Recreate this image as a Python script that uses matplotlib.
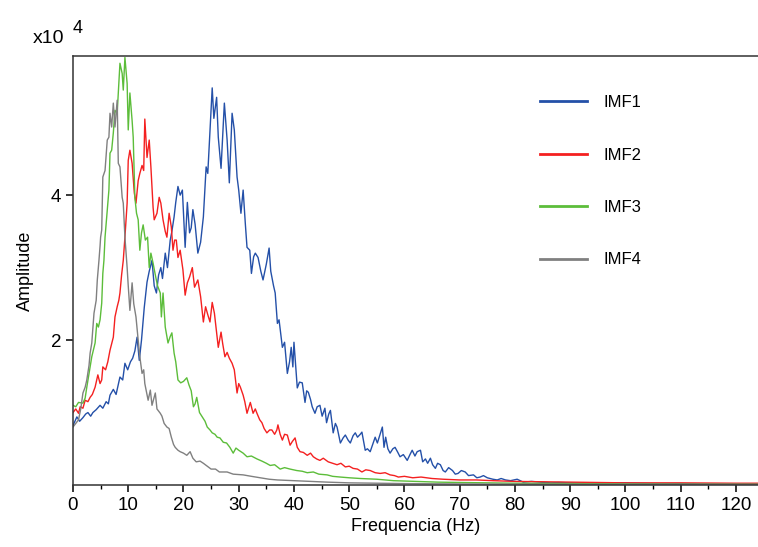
import matplotlib
matplotlib.use("Agg")
import matplotlib.pyplot as plt
from matplotlib.ticker import MultipleLocator

plt.rcParams['font.family'] = ['Liberation Sans', 'DejaVu Sans']

# spectra, amplitude in units of 1e4
f_imf1 = [0, 0.7, 1.2, 1.8, 2.3, 2.7, 3.2, 3.6, 4.2, 4.9, 5.4, 6.0, 6.4, 6.7, 7.3, 7.8, 8.5, 9.0, 9.4, 9.9,
          10.4, 10.8, 11.2, 11.6, 12.0, 12.4, 12.9, 13.4, 13.8, 14.3, 14.7, 15.1, 15.5, 15.9, 16.2, 16.7, 17.1,
          17.6, 17.9, 18.3, 18.6, 19.0, 19.4, 19.8, 20.3, 20.7, 21.1, 21.4, 21.7, 22.1, 22.6, 23.1, 23.6, 24.1,
          24.4, 24.8, 25.2, 25.5, 26.0, 26.3, 26.8, 27.4, 27.9, 28.3, 28.8, 29.2, 29.7, 30.0, 30.4, 30.8, 31.2,
          31.5, 32.0, 32.3, 32.7, 33.0, 33.5, 34.0, 34.4, 35.0, 35.5, 35.8, 36.3, 36.6, 37.0, 37.3, 37.9, 38.3,
          38.8, 39.2, 39.5, 39.8, 40.0, 40.6, 41.0, 41.5, 41.8, 42.0, 42.3, 42.6, 43.0, 43.3, 43.8, 44.2, 44.7,
          45.1, 45.6, 45.9, 46.3, 46.6, 47.1, 47.5, 47.8, 48.4, 48.9, 49.3, 49.8, 50.2, 50.7, 51.1, 51.5, 52.0,
          52.3, 52.9, 53.3, 53.8, 54.2, 54.7, 55.1, 55.6, 56.0, 56.3, 56.6, 57.0, 57.4, 57.9, 58.3, 58.8, 59.2,
          59.8, 60.5, 61.0, 61.4, 61.9, 62.3, 62.9, 63.3, 63.8, 64.2, 64.7, 65.1, 65.6, 66.0, 66.5, 67.0, 67.4,
          68.0, 68.7, 69.2, 69.7, 70.3, 71.0, 71.6, 72.5, 73.1, 73.7, 74.3, 75.0, 76.0, 76.8, 77.5, 78.3, 79.2,
          80.4, 81.5, 83.0, 84.6, 86.5, 88, 90, 95, 100, 105, 110, 115, 120, 124.5]
a_imf1 = [0.82, 0.94, 0.88, 0.93, 0.98, 1.0, 0.95, 1.0, 1.04, 1.1, 1.06, 1.15, 1.12, 1.24, 1.32, 1.25, 1.49, 1.45,
          1.68, 1.59, 1.7, 1.75, 1.85, 2.04, 1.72, 2.0, 2.45, 2.8, 2.95, 3.1, 2.75, 2.65, 2.9, 3.0, 2.85, 3.2, 3.0,
          3.38, 3.5, 3.7, 3.9, 4.12, 4.0, 4.07, 3.28, 3.9, 3.48, 3.55, 3.8, 3.6, 3.2, 3.35, 3.7, 4.39, 4.3, 4.9,
          5.48, 5.06, 5.35, 4.8, 4.37, 5.27, 4.76, 4.17, 5.13, 4.9, 4.25, 4.07, 3.75, 4.07, 3.6, 3.28, 3.24, 2.92,
          3.15, 3.2, 3.14, 2.95, 2.83, 3.05, 3.27, 2.95, 2.75, 2.65, 2.23, 2.28, 1.9, 1.97, 1.54, 1.7, 1.9, 1.63,
          1.97, 1.34, 1.42, 1.41, 1.25, 1.14, 1.3, 1.28, 1.18, 1.08, 0.99, 1.08, 1.1, 0.95, 1.06, 0.86, 0.98, 1.03,
          0.72, 0.85, 0.8, 0.58, 0.65, 0.69, 0.62, 0.58, 0.68, 0.72, 0.66, 0.7, 0.73, 0.48, 0.5, 0.46, 0.55, 0.66,
          0.58, 0.7, 0.8, 0.52, 0.66, 0.5, 0.44, 0.5, 0.52, 0.45, 0.39, 0.42, 0.34, 0.42, 0.48, 0.4, 0.46, 0.48,
          0.32, 0.36, 0.3, 0.37, 0.28, 0.23, 0.3, 0.28, 0.2, 0.18, 0.24, 0.2, 0.15, 0.16, 0.2, 0.18, 0.13, 0.14,
          0.1, 0.11, 0.13, 0.1, 0.08, 0.07, 0.09, 0.07, 0.06, 0.08, 0.04, 0.05, 0.04, 0.03, 0.035, 0.03, 0.025,
          0.03, 0.02, 0.02, 0.015, 0.015, 0.015]

f_imf2 = [0, 0.5, 1.0, 1.3, 1.8, 2.2, 2.7, 3.1, 3.5, 4.0, 4.5, 4.9, 5.2, 5.4, 5.9, 6.3, 6.7, 7.0, 7.3, 7.6, 8.0,
          8.3, 8.5, 8.8, 9.1, 9.4, 9.8, 10.0, 10.3, 10.7, 11.1, 11.4, 11.8, 12.1, 12.5, 12.8, 13.0, 13.4, 13.8,
          14.1, 14.5, 14.7, 15.2, 15.6, 15.9, 16.3, 16.7, 17.0, 17.4, 17.8, 18.1, 18.4, 18.7, 19.0, 19.4, 19.9,
          20.3, 20.7, 21.1, 21.6, 22.0, 22.6, 23.1, 23.6, 24.0, 24.4, 24.8, 25.2, 25.6, 26.0, 26.3, 26.8, 27.1,
          27.5, 27.9, 28.3, 28.8, 29.2, 29.7, 30.0, 30.3, 30.8, 31.1, 31.5, 32.1, 32.6, 33.0, 33.3, 33.8, 34.2,
          34.6, 35.1, 35.6, 36.0, 36.5, 36.9, 37.1, 37.5, 37.9, 38.3, 38.8, 39.3, 39.7, 40.2, 40.6, 41.1, 41.7,
          42.4, 43.0, 43.5, 44.1, 44.7, 45.3, 46.2, 47.0, 47.8, 48.5, 49.3, 50.0, 50.7, 51.5, 52.3, 53.0, 53.8,
          54.7, 55.6, 56.5, 57.4, 58.2, 58.9, 60, 61.5, 63, 65, 67, 70, 73, 76, 80, 85, 90, 95, 100, 110, 120, 124.5]
a_imf2 = [1.0, 1.05, 0.99, 1.08, 1.06, 1.17, 1.15, 1.21, 1.25, 1.35, 1.52, 1.4, 1.45, 1.63, 1.59, 1.7, 1.86, 1.95,
          2.04, 2.32, 2.46, 2.55, 2.65, 2.9, 3.1, 3.42, 3.89, 4.48, 4.62, 4.44, 4.03, 3.89, 4.2, 4.3, 4.41, 4.34,
          5.05, 4.52, 4.76, 4.39, 3.83, 3.66, 3.75, 3.97, 3.89, 3.66, 3.5, 3.42, 3.75, 3.56, 3.24, 3.38, 3.38, 3.14,
          3.24, 2.97, 2.62, 2.79, 2.87, 3.0, 2.73, 2.83, 2.6, 2.25, 2.46, 2.35, 2.25, 2.52, 2.37, 2.1, 1.9, 2.11,
          1.95, 1.77, 1.83, 1.75, 1.68, 1.59, 1.27, 1.4, 1.35, 1.24, 1.15, 0.99, 1.14, 0.99, 1.05, 0.99, 0.9, 0.86,
          0.78, 0.72, 0.76, 0.76, 0.7, 0.76, 0.83, 0.7, 0.62, 0.7, 0.69, 0.55, 0.6, 0.65, 0.52, 0.46, 0.45, 0.41,
          0.44, 0.39, 0.36, 0.34, 0.37, 0.32, 0.3, 0.28, 0.3, 0.25, 0.26, 0.23, 0.22, 0.18, 0.21, 0.2, 0.17, 0.16,
          0.17, 0.14, 0.13, 0.11, 0.12, 0.1, 0.11, 0.09, 0.08, 0.07, 0.07, 0.06, 0.05, 0.045, 0.04, 0.035, 0.03,
          0.03, 0.025, 0.025]

f_imf3 = [0, 0.5, 1.0, 1.8, 2.2, 2.5, 3.1, 3.4, 4.0, 4.3, 4.6, 4.9, 5.2, 5.4, 5.6, 5.8, 6.2, 6.5, 6.7, 7.0, 7.3,
          7.6, 8.0, 8.2, 8.5, 8.9, 9.1, 9.4, 9.8, 10.0, 10.3, 10.7, 10.9, 11.2, 11.5, 11.8, 12.1, 12.4, 12.7, 13.1,
          13.5, 13.8, 14.1, 14.5, 14.9, 15.3, 15.8, 16.0, 16.3, 16.7, 17.2, 17.6, 17.9, 18.3, 18.6, 19.0, 19.5,
          20.0, 20.6, 21.0, 21.4, 21.8, 22.1, 22.4, 22.9, 23.4, 23.9, 24.3, 24.8, 25.2, 25.7, 26.1, 26.6, 27.2,
          27.8, 28.4, 29.0, 29.5, 30.0, 30.8, 31.5, 32.3, 33.3, 34.2, 35.0, 35.7, 36.5, 37.5, 38.3, 39.3, 40.5,
          41.5, 42.4, 43.5, 44.5, 46, 47, 48.4, 50, 52, 55, 58, 62, 66, 70, 75, 80, 90, 100, 110, 124.5]
a_imf3 = [1.1, 1.08, 1.14, 1.13, 1.2, 1.35, 1.63, 1.77, 1.96, 2.23, 2.18, 2.28, 2.51, 2.92, 3.1, 3.42, 3.79, 4.07,
          4.58, 4.62, 4.86, 5.17, 5.13, 5.41, 5.82, 5.68, 5.45, 5.9, 5.54, 4.9, 5.41, 5.03, 4.8, 3.97, 3.75, 3.66,
          3.24, 3.48, 3.59, 3.38, 3.42, 3.0, 3.2, 3.06, 2.9, 2.75, 2.65, 2.32, 2.65, 2.18, 1.96, 2.05, 2.1, 1.82,
          1.7, 1.45, 1.41, 1.43, 1.48, 1.38, 1.3, 1.08, 1.12, 1.21, 1.0, 0.94, 0.88, 0.8, 0.76, 0.72, 0.7, 0.66,
          0.65, 0.59, 0.58, 0.52, 0.44, 0.51, 0.48, 0.44, 0.39, 0.4, 0.36, 0.33, 0.3, 0.27, 0.28, 0.22, 0.24, 0.22,
          0.2, 0.19, 0.17, 0.18, 0.15, 0.14, 0.12, 0.11, 0.1, 0.09, 0.08, 0.06, 0.05, 0.04, 0.035, 0.03, 0.025,
          0.02, 0.015, 0.012, 0.01]

f_imf4 = [0, 0.5, 1.0, 1.4, 1.8, 2.2, 2.5, 2.9, 3.1, 3.4, 3.8, 4.2, 4.4, 4.7, 4.9, 5.0, 5.2, 5.4, 5.8, 6.2, 6.5,
          6.7, 7.0, 7.3, 7.6, 8.0, 8.2, 8.5, 8.9, 9.1, 9.4, 9.8, 10.0, 10.3, 10.7, 11.0, 11.4, 11.8, 12.1, 12.5,
          12.8, 13.0, 13.6, 14.0, 14.3, 14.9, 15.2, 15.8, 16.1, 16.5, 17.0, 17.4, 17.8, 18.2, 18.5, 19.0, 19.4,
          20.0, 20.6, 21.2, 21.7, 22.3, 23.0, 23.6, 24.3, 25.0, 25.8, 26.5, 27.9, 29.0, 30.8, 32.3, 33.9, 35.5,
          37, 40, 43, 46, 50, 55, 60, 70, 80, 100, 124.5]
a_imf4 = [0.8, 0.85, 0.9, 1.05, 1.27, 1.35, 1.45, 1.65, 1.82, 1.96, 2.37, 2.55, 2.83, 3.1, 3.3, 3.42, 3.52, 4.25,
          4.34, 4.76, 4.8, 5.13, 4.94, 5.27, 4.94, 5.31, 4.44, 4.39, 3.97, 3.89, 3.42, 3.0, 2.75, 2.41, 2.79, 2.5,
          2.32, 2.0, 1.77, 1.54, 1.59, 1.4, 1.17, 1.31, 1.1, 1.27, 1.05, 0.99, 0.95, 0.85, 0.8, 0.78, 0.66, 0.56,
          0.52, 0.48, 0.46, 0.44, 0.41, 0.46, 0.37, 0.32, 0.33, 0.3, 0.26, 0.22, 0.22, 0.18, 0.18, 0.15, 0.14, 0.12,
          0.1, 0.08, 0.07, 0.06, 0.05, 0.04, 0.03, 0.025, 0.02, 0.015, 0.012, 0.01, 0.01]

labels = ['IMF1', 'IMF2', 'IMF3', 'IMF4']
colors = ['#2450a8', '#f42020', '#5cbd3a', '#808080']
x_ticks = list(range(0, 121, 10))
y_ticks = [2, 4]

fig = plt.figure(figsize=(7.58, 5.47), dpi=100)
ax = fig.add_axes([0.0963, 0.1133, 0.9037, 0.7843])

series = [(f_imf1, a_imf1), (f_imf2, a_imf2), (f_imf3, a_imf3), (f_imf4, a_imf4)]
for (f, a), lab, c in zip(series, labels, colors):
    ax.plot(f, a, color=c, lw=1.0, label=lab)

ax.set_xlim(0, 124)
ax.set_ylim(0, 5.92)
ax.set_xticks(x_ticks)
ax.xaxis.set_minor_locator(MultipleLocator(5))
ax.set_yticks(y_ticks)
ax.set_yticklabels([str(v) for v in y_ticks])
ax.tick_params(axis='both', which='major', direction='out', length=5, width=1.1, labelsize=13.5)
ax.tick_params(axis='x', which='minor', direction='out', length=3, width=1.0)
ax.spines['right'].set_visible(False)
for s in ['left', 'bottom', 'top']:
    ax.spines[s].set_linewidth(1.1)
    ax.spines[s].set_color('#333333')

ax.set_xlabel('Frequencia (Hz)', fontsize=13, labelpad=3)
ax.set_ylabel('Amplitude', fontsize=13, labelpad=12)

fig.text(33 / 758, 1 - 43 / 547, 'x10', fontsize=14, ha='left', va='baseline')
fig.text(73 / 758, 1 - 33 / 547, '4', fontsize=13, ha='left', va='baseline')

ax.legend(loc='upper left', bbox_to_anchor=(540 / 758, 1 - 95 / 547), bbox_transform=fig.transFigure,
          frameon=False, fontsize=12, handlelength=2.8, handletextpad=1.0, labelspacing=2.25,
          borderpad=0, borderaxespad=0)
for line in ax.get_legend().get_lines():
    line.set_linewidth(2)

fig.savefig('out.png', dpi=100)
